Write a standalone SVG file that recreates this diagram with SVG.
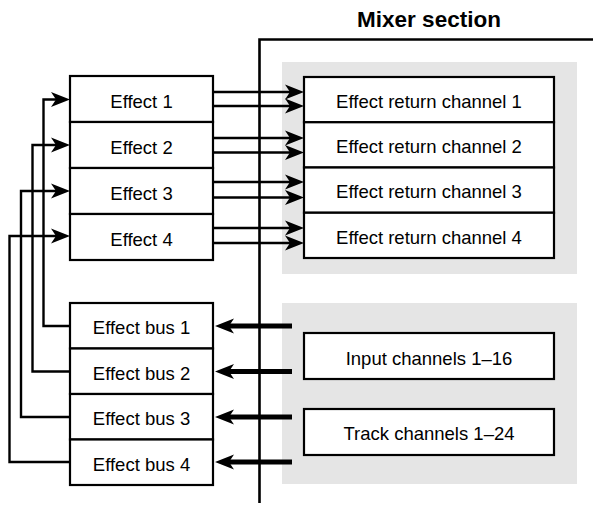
<svg xmlns="http://www.w3.org/2000/svg" width="593" height="505" viewBox="0 0 593 505">
<style>
  .box { fill: #ffffff; stroke: #000000; stroke-width: 2.2; }
  .panel { fill: #e5e5e5; stroke: none; }
  .lbl { font-family: "Liberation Sans", Arial, Helvetica, sans-serif; font-size: 18.5px; fill: #000000; text-anchor: middle; }
  .title { font-family: "Liberation Sans", Arial, Helvetica, sans-serif; font-size: 22.5px; font-weight: bold; fill: #000000; text-anchor: middle; }
  .wire { fill: none; stroke: #000000; stroke-width: 2.4; }
  .thick { fill: none; stroke: #000000; stroke-width: 4.8; }
  .frame { fill: none; stroke: #000000; stroke-width: 2.6; }
</style>
<defs>
  <marker id="arr" viewBox="-22 -9 24 18" refX="-10" refY="0" markerWidth="24" markerHeight="18" markerUnits="userSpaceOnUse" orient="auto">
    <path d="M0,0 L-19,-7.5 L-14,0 L-19,7.5 Z" fill="#000000"/>
  </marker>
  <marker id="arrThick" viewBox="-22 -9 24 18" refX="-10" refY="0" markerWidth="24" markerHeight="18" markerUnits="userSpaceOnUse" orient="auto">
    <path d="M0,0 L-19,-7.5 L-14,0 L-19,7.5 Z" fill="#000000"/>
  </marker>
</defs>
<rect width="593" height="505" fill="#ffffff"/>

<g id="mixer-section">
  <rect class="panel" x="282" y="62" width="295" height="212"/>
  <rect class="panel" x="282" y="303" width="295" height="181"/>
  <path class="frame" d="M259.5,503 L259.5,39.5 L593,39.5"/>
  <text class="title" x="429" y="27">Mixer section</text>
</g>

<g id="connectors">
  <!-- effect outputs to return channels -->
  <line class="wire" x1="213" y1="92" x2="294" y2="92" marker-end="url(#arr)"/>
  <line class="wire" x1="213" y1="106" x2="294" y2="106" marker-end="url(#arr)"/>
  <line class="wire" x1="213" y1="138" x2="294" y2="138" marker-end="url(#arr)"/>
  <line class="wire" x1="213" y1="152.5" x2="294" y2="152.5" marker-end="url(#arr)"/>
  <line class="wire" x1="213" y1="182" x2="294" y2="182" marker-end="url(#arr)"/>
  <line class="wire" x1="213" y1="197.5" x2="294" y2="197.5" marker-end="url(#arr)"/>
  <line class="wire" x1="213" y1="228" x2="294" y2="228" marker-end="url(#arr)"/>
  <line class="wire" x1="213" y1="243" x2="294" y2="243" marker-end="url(#arr)"/>
  <!-- effect bus feedback to effects -->
  <path class="wire" d="M70,326 L43.5,326 L43.5,99.5 L60,99.5" marker-end="url(#arr)"/>
  <path class="wire" d="M70,371.5 L32.5,371.5 L32.5,145 L60,145" marker-end="url(#arr)"/>
  <path class="wire" d="M70,417 L21,417 L21,191 L60,191" marker-end="url(#arr)"/>
  <path class="wire" d="M70,462 L9.5,462 L9.5,236 L60,236" marker-end="url(#arr)"/>
  <!-- mixer sends to effect buses -->
  <line class="thick" x1="292" y1="326" x2="225" y2="326" marker-end="url(#arrThick)"/>
  <line class="thick" x1="292" y1="371.5" x2="225" y2="371.5" marker-end="url(#arrThick)"/>
  <line class="thick" x1="292" y1="417" x2="225" y2="417" marker-end="url(#arrThick)"/>
  <line class="thick" x1="292" y1="462" x2="225" y2="462" marker-end="url(#arrThick)"/>
</g>

<g id="effect-1"><rect class="box" x="70" y="76" width="143" height="46"/><text class="lbl" x="141.5" y="107.5">Effect 1</text></g>
<g id="effect-2"><rect class="box" x="70" y="122" width="143" height="46"/><text class="lbl" x="141.5" y="153.5">Effect 2</text></g>
<g id="effect-3"><rect class="box" x="70" y="168" width="143" height="46"/><text class="lbl" x="141.5" y="199.5">Effect 3</text></g>
<g id="effect-4"><rect class="box" x="70" y="214" width="143" height="46"/><text class="lbl" x="141.5" y="245.5">Effect 4</text></g>

<g id="return-1"><rect class="box" x="304" y="77" width="250" height="45.25"/><text class="lbl" x="429" y="107.5">Effect return channel 1</text></g>
<g id="return-2"><rect class="box" x="304" y="122.25" width="250" height="45.25"/><text class="lbl" x="429" y="153">Effect return channel 2</text></g>
<g id="return-3"><rect class="box" x="304" y="167.5" width="250" height="45.25"/><text class="lbl" x="429" y="198">Effect return channel 3</text></g>
<g id="return-4"><rect class="box" x="304" y="212.75" width="250" height="45.25"/><text class="lbl" x="429" y="243.5">Effect return channel 4</text></g>

<g id="bus-1"><rect class="box" x="70" y="303" width="143" height="45.5"/><text class="lbl" x="141.5" y="334">Effect bus 1</text></g>
<g id="bus-2"><rect class="box" x="70" y="348.5" width="143" height="45.5"/><text class="lbl" x="141.5" y="380">Effect bus 2</text></g>
<g id="bus-3"><rect class="box" x="70" y="394" width="143" height="45.5"/><text class="lbl" x="141.5" y="425">Effect bus 3</text></g>
<g id="bus-4"><rect class="box" x="70" y="439.5" width="143" height="45.5"/><text class="lbl" x="141.5" y="470.5">Effect bus 4</text></g>

<g id="input-channels"><rect class="box" x="304" y="333" width="250" height="46"/><text class="lbl" x="429" y="364.5">Input channels 1–16</text></g>
<g id="track-channels"><rect class="box" x="304" y="409" width="250" height="46"/><text class="lbl" x="429" y="440">Track channels 1–24</text></g>
</svg>
